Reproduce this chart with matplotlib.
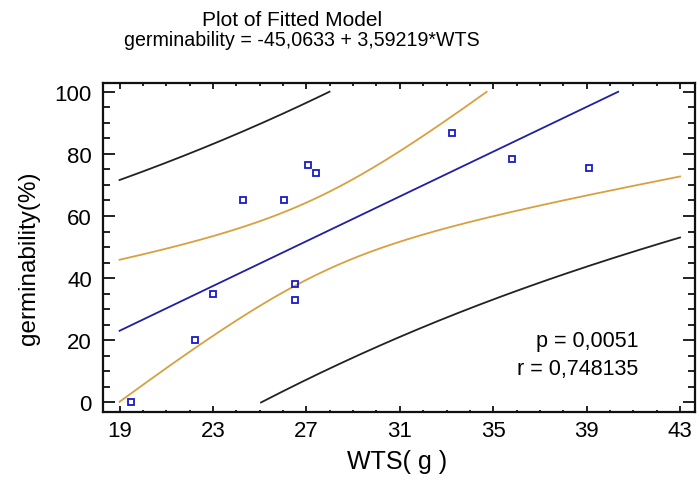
import numpy as np
import matplotlib
matplotlib.use("Agg")
import matplotlib.pyplot as plt

plt.rcParams['font.family'] = ['Liberation Sans', 'DejaVu Sans']

# Data
wts = [19.49, 22.21, 23.01, 24.28, 26.04, 27.08, 27.41, 26.53, 26.53, 33.23, 35.81, 39.09]
germ = [0.0, 20.0, 35.0, 65.0, 65.0, 76.5, 74.0, 38.0, 33.0, 86.8, 78.3, 75.3]
xticks = [19, 23, 27, 31, 35, 39, 43]
yticks = [0, 20, 40, 60, 80, 100]
title_lines = ["Plot of Fitted Model", "germinability = -45,0633 + 3,59219*WTS"]
stats_text = ["p = 0,0051", "r = 0,748135"]

x = np.array(wts)
y = np.array(germ)
n = len(x)
slope, intercept = np.polyfit(x, y, 1)
resid = y - (intercept + slope * x)
s = np.sqrt(np.sum(resid**2) / (n - 2))
sxx = np.sum((x - x.mean())**2)
t = 2.228  # t(0.975, 10)

xg = np.linspace(19, 43, 3000)
fit = intercept + slope * xg
se_conf = s * np.sqrt(1 / n + (xg - x.mean())**2 / sxx)
se_pred = s * np.sqrt(1 + 1 / n + (xg - x.mean())**2 / sxx)

def clip(v):
    return np.where((v >= 0) & (v <= 100), v, np.nan)

fig = plt.figure(figsize=(6.97, 4.81), dpi=100)
ax = fig.add_axes([103/697, 1 - 412.5/481, (695 - 103)/697, (412.5 - 84)/481])

black = '#222222'
orange = '#d9a040'
blue = '#2020a0'
ax.plot(xg, clip(fit + t * se_pred), color=black, lw=1.3)
ax.plot(xg, clip(fit - t * se_pred), color=black, lw=1.3)
ax.plot(xg, clip(fit + t * se_conf), color=orange, lw=1.3)
ax.plot(xg, clip(fit - t * se_conf), color=orange, lw=1.3)
ax.plot(xg, clip(fit), color=blue, lw=1.3)
ax.plot(x, y, linestyle='none', marker='s', markersize=4, markerfacecolor='none',
        markeredgecolor='#1a1ac8', markeredgewidth=1.3)

ax.set_xlim(18.29, 43.64)
ax.set_ylim(-2.9, 102.8)
ax.set_xticks(xticks)
ax.set_yticks(yticks)
ax.set_xticks(np.arange(19, 44, 1), minor=True)
ax.set_yticks(np.arange(0, 101, 5), minor=True)
ax.tick_params(axis='both', which='both', direction='in', top=True, right=True,
               labelsize=16, width=1.3, color='#111111')
ax.tick_params(axis='x', which='major', length=4.3, pad=6)
ax.tick_params(axis='x', which='minor', length=1.8)
ax.tick_params(axis='y', which='major', length=8.5, pad=8)
ax.tick_params(axis='y', which='minor', length=5)
for sp in ax.spines.values():
    sp.set_linewidth(1.6)
    sp.set_color('#111111')

ax.set_xlabel("WTS( g )", fontsize=18)
ax.set_ylabel("germinability(%)", fontsize=17.5)
ax.xaxis.set_label_coords(397/697, 1 - 462/481, transform=fig.transFigure)
ax.yaxis.set_label_coords(29/697, 1 - 258/481, transform=fig.transFigure)
ax.xaxis.label.set_va('center')
ax.yaxis.label.set_va('center')

fig.text(292/697, 1 - 20/481, title_lines[0], ha='center', va='center', fontsize=15)
fig.text(302/697, 1 - 40/481, title_lines[1], ha='center', va='center', fontsize=14.1)

fig.text(638/697, 1 - 341.7/481, stats_text[0], ha='right', va='center', fontsize=15.5)
fig.text(638/697, 1 - 369.3/481, stats_text[1], ha='right', va='center', fontsize=15.5)

fig.savefig("out.png", dpi=100)
